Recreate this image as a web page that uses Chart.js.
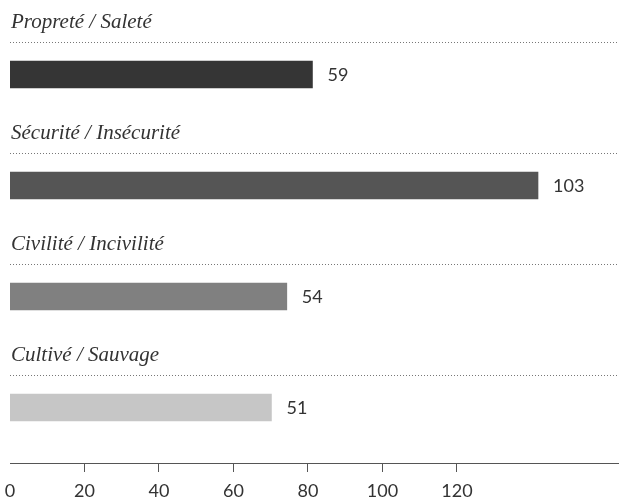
<!DOCTYPE html>
<html>
<head>
<meta charset="utf-8">
<script src="https://cdn.jsdelivr.net/npm/chart.js@4.4.1/dist/chart.umd.min.js"></script>
<style>
  html, body { margin: 0; padding: 0; background: #ffffff; }
  #wrap { width: 619px; height: 501px; position: relative; }
</style>
</head>
<body>
<div id="wrap"><canvas id="c" width="619" height="501"></canvas></div>
<script>
// ---- Data ----
const categories = ["Propreté / Saleté", "Sécurité / Insécurité", "Civilité / Incivilité", "Cultivé / Sauvage"];
const values = [59, 103, 54, 51];
const barColors = ["#353535", "#555555", "#808080", "#c6c6c6"];
// Axis as printed in the source (its scale differs from the bar labels by a constant factor)
const axisTickLabels = [0, 20, 40, 60, 80, 100, 120];
const axisMax = 163.5;      // printed axis reach at the right edge
const barMax = 118.8;       // bar-value reach at the right edge

const labelPlugin = {
  id: 'rowLabels',
  afterDatasetsDraw(chart) {
    const ctx = chart.ctx;
    const y = chart.scales.y;
    const x = chart.scales.x;
    const area = chart.chartArea;
    ctx.save();
    categories.forEach((cat, i) => {
      const cy = y.getPixelForValue(i);
      // category title
      ctx.font = 'italic 21px "Liberation Serif", serif';
      ctx.fillStyle = '#333333';
      ctx.textAlign = 'left';
      ctx.textBaseline = 'alphabetic';
      ctx.fillText(cat, area.left + 1, cy - 47);
      // dotted rule
      ctx.strokeStyle = '#777777';
      ctx.lineWidth = 1;
      ctx.setLineDash([1, 2]);
      ctx.beginPath();
      ctx.moveTo(area.left, Math.round(cy - 33) + 0.5);
      ctx.lineTo(area.right, Math.round(cy - 33) + 0.5);
      ctx.stroke();
      ctx.setLineDash([]);
      // value label
      const xe = x.getPixelForValue(values[i]);
      ctx.font = '18px Lato, sans-serif';
      ctx.fillStyle = '#333333';
      ctx.textBaseline = 'middle';
      ctx.fillText(String(values[i]), xe + 15, cy + 1);
    });
    ctx.restore();
  }
};

new Chart(document.getElementById('c'), {
  type: 'bar',
  data: {
    labels: categories,
    datasets: [{
      data: values,
      backgroundColor: barColors,
      borderWidth: 0,
      barThickness: 27,
      xAxisID: 'x',
      yAxisID: 'y'
    }]
  },
  plugins: [labelPlugin],
  options: {
    indexAxis: 'y',
    responsive: false,
    animation: false,
    layout: { padding: { left: 10, right: 0, top: 19, bottom: 0 } },
    plugins: { legend: { display: false }, tooltip: { enabled: false } },
    scales: {
      y: { display: false, offset: true },
      x: { display: false, min: 0, max: barMax },
      x2: {
        type: 'linear',
        position: 'bottom',
        min: 0,
        max: axisMax,
        afterBuildTicks(axis) { axis.ticks = axisTickLabels.map(v => ({ value: v })); },
        afterFit(axis) { axis.height = 38; axis.paddingLeft = 0; axis.paddingRight = 0; },
        border: { display: true, color: '#555555', width: 1 },
        grid: {
          display: true,
          drawOnChartArea: false,
          drawTicks: true,
          tickLength: 9,
          color: (c) => (c.tick && c.tick.value === 0) ? 'rgba(0,0,0,0)' : '#555555'
        },
        ticks: {
          autoSkip: false,
          maxRotation: 0,
          padding: 8,
          color: '#333333',
          font: { family: 'Lato', size: 18 }
        }
      }
    }
  }
});
</script>
</body>
</html>
